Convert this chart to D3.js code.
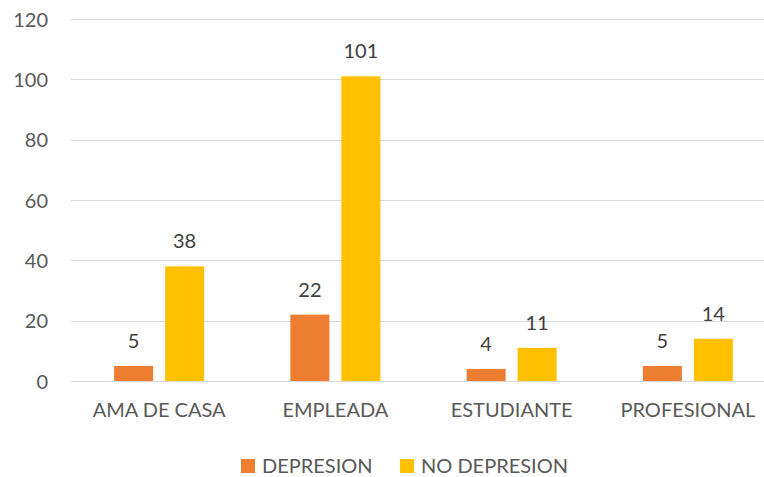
<!DOCTYPE html>
<html>
<head>
<meta charset="utf-8">
<script src="https://cdn.jsdelivr.net/npm/d3@7"></script>
<style>
  html, body { margin: 0; padding: 0; background: #fff; }
  svg { display: block; font-family: Lato, "Open Sans", sans-serif; }
</style>
</head>
<body>
<svg id="chart" width="764" height="477"></svg>
<script>
// Occupation groups and counts per series
const categories = ["AMA DE CASA", "EMPLEADA", "ESTUDIANTE", "PROFESIONAL"];
const seriesNames = ["DEPRESION", "NO DEPRESION"];
const depresion = [5, 22, 4, 5];
const noDepresion = [38, 101, 11, 14];
const yTicks = [0, 20, 40, 60, 80, 100, 120];
const colors = ["#ED7D31", "#FFC000"];

const seriesValues = [depresion, noDepresion];
const rows = categories.map((c, i) => ({
  cat: c,
  vals: seriesNames.map((s, j) => ({ key: s, value: seriesValues[j][i], color: colors[j] }))
}));

const svg = d3.select("#chart");
const W = 764;
const FS = 20;

const y = d3.scaleLinear().domain([0, 120]).range([381, 19]);
const x0 = d3.scaleBand().domain(categories).range([71, 776]).paddingInner(0).paddingOuter(0);
const x1 = d3.scaleBand().domain(seriesNames).range([-45, 45]).paddingInner(0.2353).paddingOuter(0);

// Gridlines
svg.append("g")
  .selectAll("line")
  .data(yTicks)
  .join("line")
  .attr("x1", 71).attr("x2", W)
  .attr("y1", d => Math.round(y(d)) + 0.5)
  .attr("y2", d => Math.round(y(d)) + 0.5)
  .attr("stroke", "#D9D9D9")
  .attr("stroke-width", 1.2);

// Y axis labels
const yAxis = d3.axisLeft(y).tickValues(yTicks).tickSize(0).tickPadding(0);
const yg = svg.append("g").attr("transform", "translate(48,0)").call(yAxis);
yg.select(".domain").remove();
yg.selectAll("text")
  .attr("fill", "#595959")
  .attr("font-size", FS)
  .attr("font-family", "Lato, 'Open Sans', sans-serif")
  .attr("dy", "0.36em");

// X axis labels
const xAxis = d3.axisBottom(x0).tickSize(0).tickPadding(0);
const xg = svg.append("g").attr("transform", "translate(0,403)").call(xAxis);
xg.select(".domain").remove();
xg.selectAll("text")
  .attr("fill", "#595959")
  .attr("font-size", FS)
  .attr("font-family", "Lato, 'Open Sans', sans-serif")
  .attr("dy", "0.71em");

// Bars
const groups = svg.append("g")
  .selectAll("g")
  .data(rows)
  .join("g")
  .attr("transform", d => `translate(${x0(d.cat) + x0.bandwidth() / 2},0)`);

groups.selectAll("rect")
  .data(d => d.vals)
  .join("rect")
  .attr("x", d => x1(d.key))
  .attr("width", x1.bandwidth())
  .attr("y", d => y(d.value))
  .attr("height", d => y(0) - y(d.value))
  .attr("fill", d => d.color);

// Value labels
groups.selectAll("text")
  .data(d => d.vals)
  .join("text")
  .attr("x", d => x1(d.key) + x1.bandwidth() / 2)
  .attr("y", d => y(d.value) - 18)
  .attr("text-anchor", "middle")
  .attr("fill", "#404040")
  .attr("font-size", FS)
  .text(d => d.value);

// Legend
const legendX = [241, 400];
const legend = svg.append("g")
  .selectAll("g")
  .data(seriesNames)
  .join("g")
  .attr("transform", (d, i) => `translate(${legendX[i]},459)`);
legend.append("rect")
  .attr("width", 14).attr("height", 14)
  .attr("fill", (d, i) => colors[i]);
legend.append("text")
  .attr("x", 21).attr("y", 14)
  .attr("fill", "#595959")
  .attr("font-size", FS)
  .text(d => d);
</script>
</body>
</html>
